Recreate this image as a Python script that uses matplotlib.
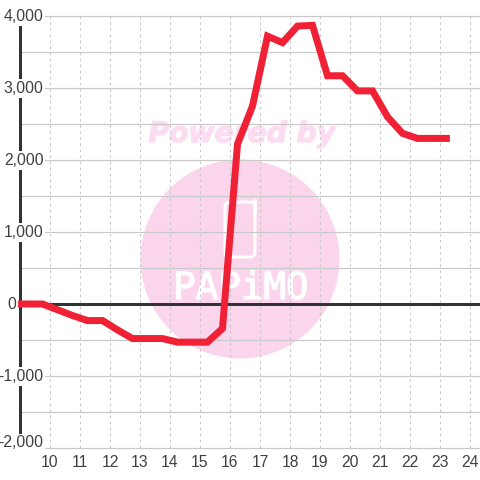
"""
Daily balance line chart with the pink watermark behind it.
"""

import matplotlib
matplotlib.use("Agg")
import matplotlib.pyplot as plt
import matplotlib.patheffects as pe
from matplotlib.patches import Circle, FancyBboxPatch

hours = [8.75, 9.25, 9.75, 10.25, 10.75, 11.25, 11.75, 12.25, 12.75, 13.25, 13.75,
         14.25, 14.75, 15.25, 15.75, 16.25, 16.75, 17.25, 17.75, 18.25, 18.75,
         19.25, 19.75, 20.25, 20.75, 21.25, 21.75, 22.25, 22.75, 23.33]
balance = [0, 0, 0, -80, -160, -230, -230, -360, -480, -480, -480,
           -530, -530, -530, -340, 2220, 2750, 3720, 3630, 3860, 3870,
           3170, 3170, 2960, 2960, 2600, 2370, 2300, 2300, 2300]

x_ticks = list(range(10, 25))
y_major = [4000, 3000, 2000, 1000, -1000, -2000]
y_minor = [3500, 2500, 1500, 500, -500, -1500]
y_labels = ["4,000", "3,000", "2,000", "1,000", "-1,000", "-2,000"]

GRID = "#c9c9c9"
DARK = "#333333"
RED = "#f02035"
TEXT = "#404040"
PINK = "#fbd5ec"
FONT = "Liberation Sans"
PX = 0.72  # points per pixel at dpi 100

fig = plt.figure(figsize=(4.8, 4.8), dpi=100, facecolor="white")

# WATERMARK LAYER (pixel coordinates)
ax_bg = fig.add_axes([0, 0, 1, 1], zorder=0)
ax_bg.set_xlim(0, 480)
ax_bg.set_ylim(480, 0)
ax_bg.axis("off")
ax_bg.add_patch(Circle((240, 259), 99.5, fc=PINK, ec="none"))
ax_bg.add_patch(FancyBboxPatch((229, 206), 22, 47, boxstyle="round,pad=4,rounding_size=5",
                               fc="none", ec="white", lw=3 * PX))
ax_bg.plot([255, 255], [201, 212], color="white", lw=4 * PX, solid_capstyle="round")
ax_bg.text(241, 289, "PAPiMO", family="DejaVu Sans Mono", fontsize=27, color="white",
           ha="center", va="center",
           path_effects=[pe.withStroke(linewidth=0.9, foreground="white")])
ax_bg.text(242, 134, "Powered by", family="DejaVu Sans", weight="bold", style="oblique",
           fontsize=20.3, color="#fcdcf0", ha="center", va="center",
           path_effects=[pe.withStroke(linewidth=0.9, foreground="#fcdcf0")])

# MAIN AXES: left spine at x=20px, -2000 at y=448px, 4000 at y=16px
ax = fig.add_axes([20 / 480, (480 - 448) / 480, 460 / 480, 432 / 480], zorder=1)
ax.patch.set_alpha(0)
ax.set_xlim(9, 9 + 460 / 30)
ax.set_ylim(-2000, 4000)

for spine in ["top", "right", "bottom"]:
    ax.spines[spine].set_visible(False)
ax.spines["left"].set_linewidth(3 * PX)
ax.spines["left"].set_color(DARK)
ax.spines["left"].set_zorder(2)

for v in y_major + y_minor:
    ax.axhline(v, color=GRID, lw=1.2 * PX, zorder=1, clip_on=False)
for h in x_ticks:
    ax.axvline(h, color=GRID, lw=1.1 * PX, ls=(0, (2.5, 3)), zorder=1, clip_on=False)
ax.axhline(0, color=DARK, lw=3 * PX, zorder=2)

ax.plot(hours, balance, color=RED, lw=7 * PX, solid_joinstyle="miter",
        solid_capstyle="butt", zorder=3, clip_on=False)

ax.set_xticks(x_ticks)
ax.set_xticklabels([str(h) for h in x_ticks], family=FONT, fontsize=11.3, color=TEXT)
ax.set_yticks([])
ax.tick_params(axis="x", length=0, pad=5)

# y labels sit on white boxes that hide the spine and the grid
box = dict(fc="white", ec="none", pad=1.2)
for v, lab in zip(y_major, y_labels):
    y = -1920 if v == -2000 else v
    ax.text(9.79, y - 10, lab, family=FONT, fontsize=11.3, color=TEXT, ha="right", va="center",
            bbox=box, zorder=5, clip_on=False)
ax.text(8.87, -10, "0", family=FONT, fontsize=11.3, color=TEXT, ha="right", va="center",
        bbox=box, zorder=5, clip_on=False)

fig.savefig("out.png", dpi=100)
